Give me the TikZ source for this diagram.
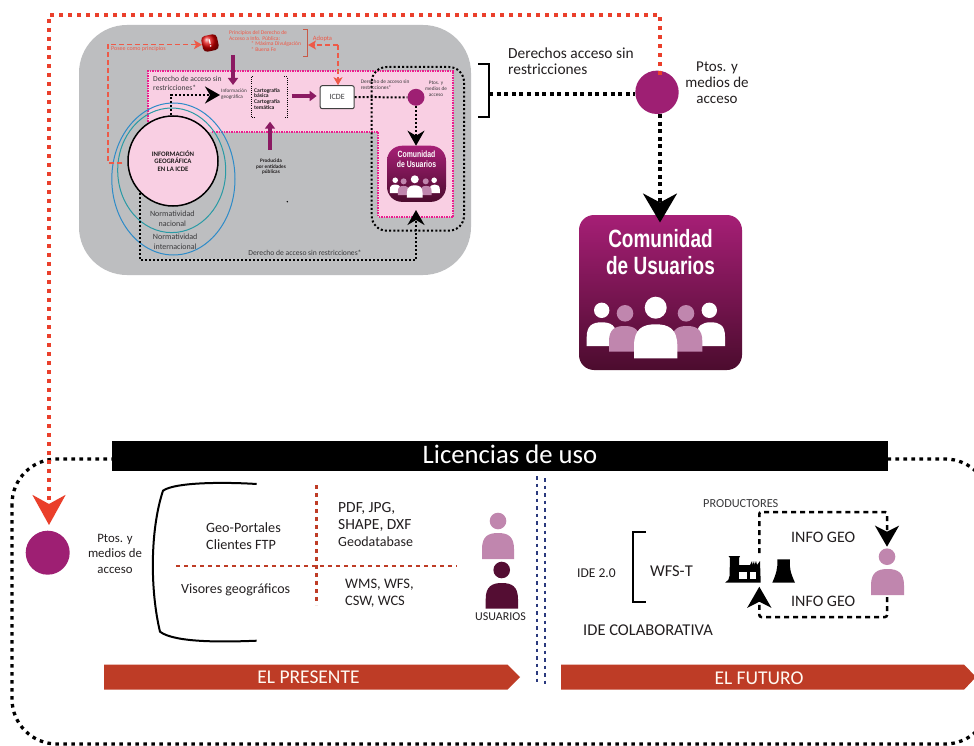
\documentclass[tikz,border=0pt]{standalone}
\usepackage{fontspec}
\usepackage{graphicx}
\setmainfont{Carlito}
\newfontfamily\narrowsans{Liberation Sans}
\usetikzlibrary{arrows.meta,calc,shapes.geometric}
\definecolor{greybg}{HTML}{BDBEC0}
\definecolor{pinkbg}{HTML}{F9CFE3}
\definecolor{magdot}{HTML}{EC1C8E}
\definecolor{purp}{HTML}{9E1F73}
\definecolor{purpdk}{HTML}{8B1A62}
\definecolor{redd}{HTML}{EA3F2B}
\definecolor{redl}{HTML}{EE5A48}
\definecolor{brick}{HTML}{BE3C26}
\definecolor{lilac}{HTML}{C086AE}
\definecolor{wine}{HTML}{540D33}
\definecolor{navy}{HTML}{2B3A7E}
\definecolor{inkk}{HTML}{231F20}
\definecolor{greytx}{HTML}{3A3A3C}
\definecolor{ellblue}{HTML}{2E8BC8}
\definecolor{ellteal}{HTML}{2A9AA5}
\newcommand\fsz[2]{\fontsize{#1}{#2}\selectfont}
\newcommand\bodyshape[5]{%
  \pgfmathsetmacro\bw{#2-#1}%
  \fill[#5] (#1,#4) -- (#1,{#3+.5*\bw}) .. controls (#1,{#3+.1*\bw}) and ({#1+.2*\bw},#3) .. ({#1+.5*\bw},#3)
     .. controls ({#1+.8*\bw},#3) and (#2,{#3+.1*\bw}) .. (#2,{#3+.5*\bw}) -- (#2,#4) -- cycle;}
\newcommand\comunidadbox[4]{%
\begin{scope}[shift={(#2,#3)},scale=#4,transform shape]
  \node[rounded corners=15pt,minimum width=163pt,minimum height=155pt,inner sep=0,top color=purp!90!magdot,bottom color=wine!90!black] (#1) at (0,0) {};
  \node[text=white,inner sep=0] (#1a) at (0,-53.5) {\narrowsans\bfseries\fontsize{25}{25}\selectfont\scalebox{0.76}[1]{Comunidad}};
  \node[text=white,inner sep=0] (#1b) at (0,-27) {\narrowsans\bfseries\fontsize{25}{25}\selectfont\scalebox{0.76}[1]{de Usuarios}};
  \bodyshape{-73.8}{-43.8}{29.8}{53.5}{white}
  \bodyshape{36.2}{64.5}{29.8}{53.5}{white}
  \fill[white] (-58.8,17.8) circle (7.7);
  \fill[white] (48.8,17.8) circle (7.7);
  \bodyshape{-51.5}{-20.5}{33.5}{59.2}{lilac}
  \bodyshape{11.2}{41.8}{33.5}{59.2}{lilac}
  \fill[lilac] (-35.5,20.8) circle (8.3);
  \fill[lilac] (25.5,20.8) circle (8.3);
  \bodyshape{-26.5}{16.8}{31.8}{65.8}{white}
  \fill[white] (-4.8,15.2) circle (11);
\end{scope}}
\tikzset{
  lbl/.style={inner sep=0,text=inkk,align=center},
  lbll/.style={inner sep=0,text=inkk,align=left,anchor=west},
  glbl/.style={inner sep=0,text=greytx,align=center},
  glbll/.style={inner sep=0,text=greytx,align=left,anchor=west},
  rlbl/.style={inner sep=0,text=redl,align=left,anchor=west},
  dotsm/.style={draw=black,line width=2pt,dash pattern=on 2pt off 2pt},
  dotbig/.style={draw=black,line width=3.5pt,dash pattern=on 4pt off 3.6pt},
  dotframe/.style={draw=black,line width=3.3pt,dash pattern=on 3.6pt off 4.4pt},
  dotred/.style={draw=redd,line width=3.5pt,dash pattern=on 4pt off 5pt},
  dashprod/.style={draw=black,line width=2.5pt,dash pattern=on 5pt off 4pt},
  dashsm/.style={draw=redl,line width=1.2pt,dash pattern=on 5pt off 3pt},
  tipbig/.style={-{Stealth[length=29pt,width=34pt,inset=9pt]}},
  tipmed/.style={-{Stealth[length=21pt,width=24pt,inset=6pt]}},
  tipsm/.style={-{Stealth[length=15pt,width=17pt,inset=5pt]}},
  tipred/.style={-{Stealth[length=8pt,width=9pt,inset=2pt]}},
  purar/.style={draw=purpdk,line width=4.5pt,-{Triangle[length=7pt,width=10pt]}},
  cross/.style={draw=brick,line width=2.5pt,dash pattern=on 4pt off 4pt},
  bluev/.style={draw=navy,line width=2.5pt,dash pattern=on 3.5pt off 4pt},
  accdot/.style={circle,fill=purp,inner sep=0},
}
\begin{document}
\begin{tikzpicture}[x=1pt,y=-1pt]
\useasboundingbox (0,0) rectangle (974,746);
\clip (0,0) rectangle (974,746);
\fill[white] (0,0) rectangle (974,746);

% ---- upper grey panel
\fill[greybg,rounded corners=48pt] (79,25) rectangle (471,275);
\fill[pinkbg] (148,71) -- (453,71) -- (453,217) -- (378,217) -- (378,132) -- (148,132) -- cycle;
\draw[magdot,line width=1.2pt,dash pattern=on 1.5pt off 1pt] (148,122) -- (148,71) -- (453,71) -- (453,217) -- (378,217) -- (378,132) -- (212,132);
\draw[black,line width=2pt,dash pattern=on 2pt off 2.2pt,rounded corners=15pt] (371.7,67) rectangle (464,230.7);
\draw[ellblue,line width=1pt] (173.4,179) ellipse (61.6 and 76);
\draw[ellteal,line width=1pt] (171.7,170.3) ellipse (54 and 62.3);
\node[circle,draw=black,line width=1.5pt,fill=pinkbg,minimum size=90pt,inner sep=0] (info) at (173,161) {};
\node[lbl,font=\bfseries\fsz{6.8}{7.2}] (infot) at (173,161) {INFORMACIÓN\\GEOGRÁFICA\\EN LA ICDE};

\node[glbl,font=\fsz{8}{10}] (nn) at (172.3,219) {Normatividad\\nacional};
\node[glbl,font=\fsz{8}{9.5}] (ni) at (175.2,242) {Normatividad\\internacional};

% red items
\node[rectangle,rounded corners=4pt,rotate=12,ball color=red!85!black,minimum size=16pt,inner sep=0] (icon) at (210,43) {\textcolor{white}{\bfseries\fsz{11}{11}!}};
\draw[dashsm,tipred] ($(info.west)+(-5,2)$) -- (108,163) |- (icon.west);
\node[rlbl,font=\fsz{6}{6.5}] (posee) at (111,49) {Posee como principios};
\node[rlbl,font=\fsz{5.6}{5.6}] (princ) at (229,35.7) {Principios del Derecho de\\Acceso a Info. Pública:};
\node[rlbl,font=\fsz{5.6}{5.6}] (maxd) at (251,46.7) {* Máxima Divulgación\\* Buena Fe};
\coordinate (brt) at (303,29);
\coordinate (brb) at (303,56);
\draw[draw=brick!85!white,line width=.8pt] (brt) -- (307.7,29) -- (307.7,56) -- (brb);
\node[rlbl,font=\fsz{6.5}{6.5}] (adopta) at (312.7,39) {Adopta};
\node[draw=black!75,line width=1pt,fill=white,rounded corners=2pt,minimum width=34pt,minimum height=23pt,inner sep=0,text=greytx,font=\fsz{8}{8}] (icde) at (337.2,97.2) {ICDE};
\coordinate (adbr) at (308,45);
\draw[dashsm,tipred] (338,45) -- (adbr);
\draw[dashsm,tipred] (338,45) -- (icde.north -| 338,0);

% texts inside pink
\node[glbll,font=\fsz{7.6}{9}] (dr1) at (153,83.5) {Derecho de acceso sin\\restricciones*};
\node[glbll,font=\fsz{5.2}{5.8}] (ig) at (221,94.5) {Información\\geográfica};
\node[lbll,font=\bfseries\fsz{5.6}{5.6}] (carto) at (254,98.7) {Cartografía\\básica\\Cartografía\\temática};
\draw[draw=black,line width=1pt,dash pattern=on 1pt off 1.2pt] (253,76.7) -- (251,76.7) -- (251,118) -- (254,118);
\draw[draw=black,line width=1pt,dash pattern=on 1pt off 1.2pt] (284,76.7) -- (287.3,76.7) -- (287.3,118) -- (284,118);
\node[lbl,font=\bfseries\fsz{5.2}{5.8}] (prod) at (271,166.7) {Producida\\por entidades\\públicas};
\node[glbll,font=\fsz{5.4}{6}] (dr2) at (360.7,84.7) {Derecho de acceso sin\\restricciones*};
\node[glbl,font=\fsz{5.2}{5.8}] (pt2) at (436,89) {Ptos. y\\medios de\\acceso};
\node[circle,fill=black,inner sep=0,minimum size=1.6pt] (spk) at (287.3,201.7) {};

% purple arrows
\coordinate (pa1) at (233,55);
\coordinate (pa2) at (233,85);
\coordinate (pb1) at (270,150);
\coordinate (pb2) at (270,121.7);
\coordinate (pc1) at (291.7,96);
\coordinate (pc2) at (316.7,96);
\draw[purar] (pa1) -- (pa2);
\draw[purar] (pb1) -- (pb2);
\draw[purar,line width=3.5pt] (pc1) -- (pc2);

% small circle + small box
\node[accdot,minimum size=17pt] (pts) at (416,97.3) {};
\comunidadbox{comsm}{416.5}{173.8}{0.362}

% black dotted connectors, upper panel
\coordinate (igt) at (220,95);
\draw[dotsm,tipsm] (info.north -| 171,0) -- (171,95) -- (igt);
\draw[dotsm] (icde.east) -- (pts.west);
\coordinate (cdt) at (416,145.7);
\draw[dotsm,tipsm] (pts.south) -- (cdt);
\coordinate (dln) at (140,193);
\coordinate (cbt) at (416,210);
\draw[dotsm,tipsm] (dln) -- (140,260) -- (416,260) -- (cbt);
\node[glbl,font=\fsz{7.6}{8}] (dr3) at (305,252.7) {Derecho de acceso sin restricciones*};

% ---- upper right
\node[lbll,font=\fsz{15.4}{16}] (dr4) at (508,61) {Derechos acceso sin\\restricciones};
\coordinate (bt) at (478,64);
\coordinate (bb) at (478,117);
\coordinate (bm) at (489,94);
\draw[black,line width=2pt] (bt) -- (489,64) -- (489,117) -- (bb);
\node[accdot,minimum size=43.4pt] (big) at (657,92.3) {};
\node[lbl,font=\fsz{15}{16}] (ptb) at (717,83) {Ptos. y\\medios de\\acceso};
\draw[dotbig] (bm) -- (big.west |- bm);
\comunidadbox{combig}{660.5}{292.5}{1}
\draw[dotbig,tipbig,shorten >=-7.7pt] (660,114) -- (combig.north -| 660,0);

% ---- lower frame
\node[accdot,minimum size=44pt] (low) at (47.7,552.7) {};
\draw[dotframe,rounded corners=45pt] (12,459) rectangle (990,744);
% ---- red long connector
\draw[dotred,-{Stealth[length=30pt,width=33pt,inset=9pt]}] (660,75) -- (660,15) -- (49,15) -- (49,525);
\node[fill=black,minimum width=776pt,minimum height=30pt,inner sep=0] (lic) at (500,456) {};
\node[inner sep=0,text=white,font=\fsz{26.7}{26.7}] (lict) at (510,454) {Licencias de uso};

\node[lbl,font=\fsz{12.8}{15.5}] (ptc) at (115,553.5) {Ptos. y\\medios de\\acceso};
\draw[black,line width=2pt] (256.7,484) .. controls (225,482) and (175,482) .. (163,490.7)
   .. controls (150,530) and (150,590) .. (160,631.7)
   .. controls (175,643) and (225,642) .. (256.7,640.7);
\node[lbll,font=\fsz{14.2}{16.5}] (geo) at (206,536) {Geo-Portales\\Clientes FTP};
\node[lbll,font=\fsz{14}{16}] (vis) at (181,590) {Visores geográficos};
\coordinate (ch1) at (176,566);
\coordinate (ch2) at (457,566);
\coordinate (cv1) at (316.7,485);
\coordinate (cv2) at (316.7,605);
\draw[cross] (ch1) -- (ch2);
\draw[cross] (cv1) -- (cv2);
\node[lbll,font=\fsz{15.5}{17}] (pdf) at (338,516.5) {PDF, JPG,\\SHAPE, DXF};
\node[lbll,font=\fsz{14}{14}] (gdb) at (338,542) {Geodatabase};
\node[lbll,font=\fsz{14.5}{17}] (wms) at (345,593.5) {WMS, WFS,\\CSW, WCS};
\fill[lilac] (498,521) circle (8.3);
\bodyshape{482}{514}{533}{559}{lilac}
\fill[wine] (501.7,570) circle (8.3);
\bodyshape{485.7}{518}{583}{608.7}{wine}
\node[lbl,font=\fsz{12}{12}] (usu) at (500.5,617) {USUARIOS};
\coordinate (b1a) at (537,476);
\coordinate (b1b) at (537,683);
\coordinate (b2a) at (545,478);
\coordinate (b2b) at (545,687);
\draw[bluev] (b1a) -- (b1b);
\draw[bluev] (b2a) -- (b2b);

% arrows EL PRESENTE / EL FUTURO
\fill[brick] (104,664.5) -- (507.3,664.5) -- (520,677) -- (507.3,689.7) -- (104,689.7) -- cycle;
\node[inner sep=0,text=white!95!orange,font=\fsz{19.5}{19.5}] (pres) at (308.5,677.3) {EL PRESENTE};
\fill[brick] (561,664.5) -- (964,664.5) -- (976,677) -- (964,689.7) -- (561,689.7) -- cycle;
\node[inner sep=0,text=white!95!orange,font=\fsz{19.5}{19.5}] (fut) at (759,678) {EL FUTURO};

% right block
\node[lbll,font=\fsz{13.5}{13.5}] (ide2) at (577,573) {IDE 2.0};
\draw[black,line width=2pt] (646,532) -- (633,532) -- (633,602) -- (646,602);
\node[lbll,font=\fsz{16.5}{16.5}] (wfst) at (650,571) {WFS-T};
\node[lbll,font=\fsz{16.5}{16.5}] (colab) at (583,630) {IDE COLABORATIVA};
\node[lbll,font=\fsz{12.3}{12.3},text=greytx] (prodr) at (703,504) {PRODUCTORES};
\node[lbll,font=\fsz{16}{16}] (ig1) at (791,537) {INFO GEO};
\node[lbll,font=\fsz{16}{16}] (ig2) at (791,601) {INFO GEO};
% factory
\fill[black] (725,582.7) .. controls (728,581) and (729.5,579) .. (729.5,576) -- (730,558) -- (728.5,556) -- (740,556) -- (739,558) -- (739,565) -- (750,565) -- (752,561) -- (752.5,565) -- (754,561) -- (754.5,565) -- (756,561) -- (757,565) -- (760,561) -- (760.7,582.7) -- cycle;
\fill[white] (738.5,571.5) rectangle (747,578.5);
\fill[white] (749.5,571.5) rectangle (756,578.5);
% cooling tower
\fill[black] (777.3,559.3) -- (790,559.3) .. controls (789,568) and (791,574) .. (795,582.7) -- (772.3,582.7) .. controls (776,574) and (778,568) .. (777.3,559.3) -- cycle;
% right person
\fill[lilac] (887,556.7) circle (8.3);
\bodyshape{871}{904}{569}{595}{lilac}
\draw[dashprod,tipmed,rounded corners=2pt] (759.3,553) -- (759.3,512) -- (887,512) -- (887,546.7);
\draw[dashprod,tipmed,rounded corners=2pt] (887,597) -- (887,617) -- (759.3,617) -- (759.3,586.7);
\end{tikzpicture}
\end{document}
